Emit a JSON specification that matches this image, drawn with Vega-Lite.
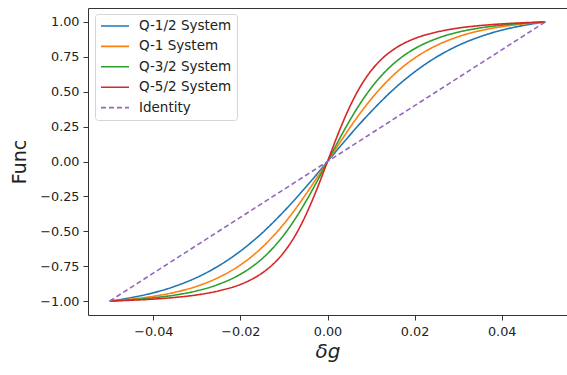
{
  "$schema": "https://vega.github.io/schema/vega-lite/v6.json",
  "width": 479,
  "height": 307,
  "autosize": {"type": "none"},
  "padding": {"left": 88, "top": 8, "right": 0, "bottom": 60},
  "background": "white",
  "config": {
    "view": {"stroke": null},
    "font": "DejaVu Sans",
    "axis": {"labelFont": "DejaVu Sans", "labelFontSize": 12.8, "labelColor": "#222", "tickColor": "#333", "domainColor": "#333", "tickSize": 5, "grid": false, "titleColor": "#222", "titleFontWeight": "normal", "titleFont": "DejaVu Sans"},
    "legend": {"orient": "none", "legendX": 7, "legendY": 6, "fillColor": "white", "strokeColor": "#d5d5d5", "cornerRadius": 3, "padding": 5, "symbolType": "stroke", "symbolSize": 784, "symbolStrokeWidth": 1.6, "clipHeight": 14, "rowPadding": 6.4, "labelFontSize": 13.5, "labelFont": "DejaVu Sans", "labelColor": "#222", "labelOffset": 9, "title": null}
  },
  "data": {"values": [
    {"x": -0.05, "Q-1/2 System": -1, "Q-1 System": -1, "Q-3/2 System": -1, "Q-5/2 System": -1, "Identity": -1},
    {"x": -0.045, "Q-1/2 System": -0.975, "Q-1 System": -0.986, "Q-3/2 System": -0.991, "Q-5/2 System": -0.994, "Identity": -0.9},
    {"x": -0.04, "Q-1/2 System": -0.941, "Q-1 System": -0.966, "Q-3/2 System": -0.977, "Q-5/2 System": -0.986, "Identity": -0.8},
    {"x": -0.035, "Q-1/2 System": -0.894, "Q-1 System": -0.937, "Q-3/2 System": -0.957, "Q-5/2 System": -0.974, "Identity": -0.7},
    {"x": -0.03, "Q-1/2 System": -0.831, "Q-1 System": -0.894, "Q-3/2 System": -0.927, "Q-5/2 System": -0.956, "Identity": -0.6},
    {"x": -0.025, "Q-1/2 System": -0.748, "Q-1 System": -0.831, "Q-3/2 System": -0.88, "Q-5/2 System": -0.927, "Identity": -0.5},
    {"x": -0.02, "Q-1/2 System": -0.642, "Q-1 System": -0.741, "Q-3/2 System": -0.808, "Q-5/2 System": -0.881, "Identity": -0.4},
    {"x": -0.0175, "Q-1/2 System": -0.58, "Q-1 System": -0.683, "Q-3/2 System": -0.758, "Q-5/2 System": -0.846, "Identity": -0.35},
    {"x": -0.015, "Q-1/2 System": -0.512, "Q-1 System": -0.615, "Q-3/2 System": -0.696, "Q-5/2 System": -0.799, "Identity": -0.3},
    {"x": -0.0125, "Q-1/2 System": -0.437, "Q-1 System": -0.536, "Q-3/2 System": -0.619, "Q-5/2 System": -0.736, "Identity": -0.25},
    {"x": -0.01, "Q-1/2 System": -0.357, "Q-1 System": -0.446, "Q-3/2 System": -0.526, "Q-5/2 System": -0.65, "Identity": -0.2},
    {"x": -0.0075, "Q-1/2 System": -0.273, "Q-1 System": -0.346, "Q-3/2 System": -0.415, "Q-5/2 System": -0.535, "Identity": -0.15},
    {"x": -0.005, "Q-1/2 System": -0.184, "Q-1 System": -0.236, "Q-3/2 System": -0.288, "Q-5/2 System": -0.385, "Identity": -0.1},
    {"x": -0.0025, "Q-1/2 System": -0.093, "Q-1 System": -0.12, "Q-3/2 System": -0.148, "Q-5/2 System": -0.203, "Identity": -0.05},
    {"x": 0, "Q-1/2 System": 0, "Q-1 System": 0, "Q-3/2 System": 0, "Q-5/2 System": 0, "Identity": 0},
    {"x": 0.0025, "Q-1/2 System": 0.093, "Q-1 System": 0.12, "Q-3/2 System": 0.148, "Q-5/2 System": 0.203, "Identity": 0.05},
    {"x": 0.005, "Q-1/2 System": 0.184, "Q-1 System": 0.236, "Q-3/2 System": 0.288, "Q-5/2 System": 0.385, "Identity": 0.1},
    {"x": 0.0075, "Q-1/2 System": 0.273, "Q-1 System": 0.346, "Q-3/2 System": 0.415, "Q-5/2 System": 0.535, "Identity": 0.15},
    {"x": 0.01, "Q-1/2 System": 0.357, "Q-1 System": 0.446, "Q-3/2 System": 0.526, "Q-5/2 System": 0.65, "Identity": 0.2},
    {"x": 0.0125, "Q-1/2 System": 0.437, "Q-1 System": 0.536, "Q-3/2 System": 0.619, "Q-5/2 System": 0.736, "Identity": 0.25},
    {"x": 0.015, "Q-1/2 System": 0.512, "Q-1 System": 0.615, "Q-3/2 System": 0.696, "Q-5/2 System": 0.799, "Identity": 0.3},
    {"x": 0.0175, "Q-1/2 System": 0.58, "Q-1 System": 0.683, "Q-3/2 System": 0.758, "Q-5/2 System": 0.846, "Identity": 0.35},
    {"x": 0.02, "Q-1/2 System": 0.642, "Q-1 System": 0.741, "Q-3/2 System": 0.808, "Q-5/2 System": 0.881, "Identity": 0.4},
    {"x": 0.025, "Q-1/2 System": 0.748, "Q-1 System": 0.831, "Q-3/2 System": 0.88, "Q-5/2 System": 0.927, "Identity": 0.5},
    {"x": 0.03, "Q-1/2 System": 0.831, "Q-1 System": 0.894, "Q-3/2 System": 0.927, "Q-5/2 System": 0.956, "Identity": 0.6},
    {"x": 0.035, "Q-1/2 System": 0.894, "Q-1 System": 0.937, "Q-3/2 System": 0.957, "Q-5/2 System": 0.974, "Identity": 0.7},
    {"x": 0.04, "Q-1/2 System": 0.941, "Q-1 System": 0.966, "Q-3/2 System": 0.977, "Q-5/2 System": 0.986, "Identity": 0.8},
    {"x": 0.045, "Q-1/2 System": 0.975, "Q-1 System": 0.986, "Q-3/2 System": 0.991, "Q-5/2 System": 0.994, "Identity": 0.9},
    {"x": 0.05, "Q-1/2 System": 1, "Q-1 System": 1, "Q-3/2 System": 1, "Q-5/2 System": 1, "Identity": 1}
  ]},
  "transform": [{"fold": ["Q-1/2 System", "Q-1 System", "Q-3/2 System", "Q-5/2 System", "Identity"], "as": ["series", "y"]}],
  "layer": [
    {
      "mark": {"type": "line", "strokeWidth": 1.6, "interpolate": "monotone"},
      "encoding": {
        "x": {"field": "x", "type": "quantitative", "scale": {"domain": [-0.055, 0.055], "nice": false, "zero": false},
          "axis": {"values": [-0.04, -0.02, 0, 0.02, 0.04], "format": ".2f", "title": "δg", "titleFontSize": 20, "titleFontStyle": "italic", "titlePadding": 4, "labelPadding": 5}},
        "y": {"field": "y", "type": "quantitative", "scale": {"domain": [-1.1, 1.1], "nice": false},
          "axis": {"values": [-1, -0.75, -0.5, -0.25, 0, 0.25, 0.5, 0.75, 1], "format": ".2f", "title": "Func", "titleFontSize": 19, "labelPadding": 4, "titlePadding": 10}},
        "color": {"field": "series", "type": "nominal",
          "scale": {"domain": ["Q-1/2 System", "Q-1 System", "Q-3/2 System", "Q-5/2 System", "Identity"], "range": ["#1f77b4", "#ff7f0e", "#2ca02c", "#d62728", "#9467bd"]},
          "legend": {"title": null}},
        "strokeDash": {"field": "series", "type": "nominal",
          "scale": {"domain": ["Q-1/2 System", "Q-1 System", "Q-3/2 System", "Q-5/2 System", "Identity"], "range": [[1, 0], [1, 0], [1, 0], [1, 0], [5, 3]]},
          "legend": {"title": null}}
      }
    },
    {
      "mark": {"type": "rule", "opacity": 0},
      "encoding": {"x": {"field": "x", "type": "quantitative", "axis": {"orient": "top", "labels": false, "ticks": false, "title": null}}}
    }
  ],
  "resolve": {"axis": {"x": "independent"}}
}
